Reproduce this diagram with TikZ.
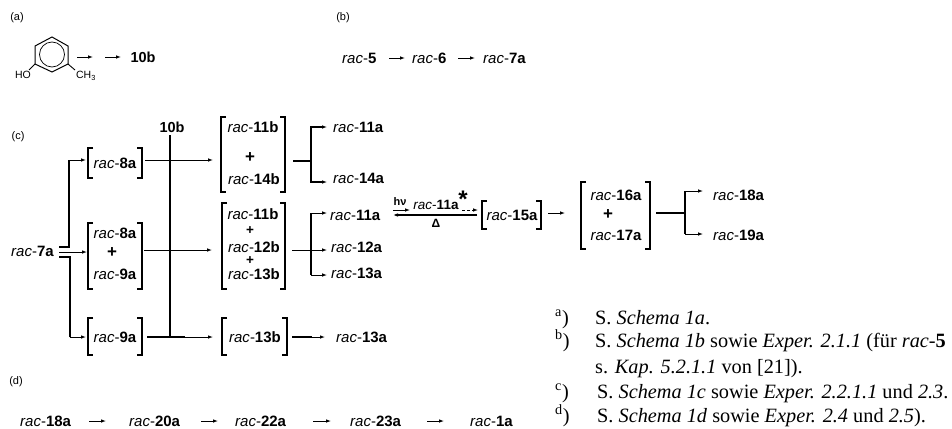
\documentclass[tikz,border=0pt]{standalone}
\usepackage{fontspec}
\setmainfont{Liberation Sans}
\newfontfamily\notefont{Liberation Serif}
\usetikzlibrary{arrows.meta}
\newcommand{\rc}[1]{{\itshape rac}-{\bfseries #1}}
\tikzset{
  x=1pt,y=-1pt,
  lab/.style={font=\fontsize{15}{15}\selectfont,inner sep=0pt,anchor=west},
  mid/.style={font=\fontsize{15}{15}\selectfont,inner sep=0pt},
  tag/.style={font=\fontsize{11}{11}\selectfont,inner sep=0pt},
  sm/.style={font=\fontsize{10.5}{10.5}\selectfont,inner sep=0pt},
  bld/.style={font=\fontsize{14.5}{14.5}\bfseries\selectfont,inner sep=0pt},
  plus/.style={font=\fontsize{17}{17}\bfseries\selectfont,inner sep=0pt},
  plussm/.style={font=\fontsize{13.5}{13.5}\bfseries\selectfont,inner sep=0pt},
  note/.style={font=\notefont\fontsize{20.3}{20.3}\selectfont,inner sep=0pt,anchor=base west},
  ar/.style={line width=0.9pt,-{Latex[length=5pt,width=3.6pt]}},
  ln/.style={line width=1.1pt},
  br/.style={line width=1.3pt},
}
\newcommand{\brk}[4]{%
  \draw[br] (#1+5,#3) -- (#1,#3) -- (#1,#4) -- (#1+5,#4);
  \draw[br] (#2-5,#3) -- (#2,#3) -- (#2,#4) -- (#2-5,#4);}
\begin{document}
\begin{tikzpicture}
\useasboundingbox (0,0) rectangle (952,428);
% (a)
\node[tag] (ta) at (17,18) {(a)};
\draw[line width=1pt] (52,37)--(68,46)--(68,64)--(52,72)--(35,64)--(35,46)--cycle;
\draw[line width=0.7pt] (52,54.5) circle (12.5);
\draw[line width=0.9pt] (35,64)--(29,70) (68,64)--(75,70);
\node[sm] (ho) at (23,75) {HO};
\node[sm] (ch) at (86,76) {CH\textsubscript{3}};
\coordinate (a1) at (77,57); \coordinate (a2) at (93,57);
\coordinate (a3) at (105,57); \coordinate (a4) at (121,57);
\draw[ar] (a1)--(a2); \draw[ar] (a3)--(a4);
\node[bld] (b10) at (143,57) {10b};
% (b)
\node[tag] (tb) at (343,18) {(b)};
\node[lab] (r5) at (342,58) {\rc{5}};
\node[lab] (r6) at (412,58) {\rc{6}};
\node[lab] (r7) at (483,58) {\rc{7a}};
\coordinate (b1) at (389,58); \coordinate (b2) at (405,58);
\coordinate (b3) at (458,58); \coordinate (b4) at (475,58);
\draw[ar] (b1)--(b2); \draw[ar] (b3)--(b4);
% (c)
\node[tag] (tc) at (18,137) {(c)};
\node[bld] (t10b) at (172,127) {10b};
\node[lab] (r7a) at (11,251) {\rc{7a}};
\coordinate (vt) at (170,135); \coordinate (vb) at (170,337);
\draw[ln] (vt)--(vb);
\draw[ln] (59,247)--(69,247)--(69,160); \draw[ar] (68.5,160)--(86,160);
\draw[ar] (59,252)--(87,252);
\draw[ln] (59,257)--(70,257)--(70,337); \draw[ar] (69.5,337)--(86,337);
\brk{88}{142}{148}{178}
\node[mid] (r8a) at (115,163) {\rc{8a}};
\brk{88}{142}{223}{289}
\node[mid] (r8b) at (115,233) {\rc{8a}};
\node[plus] (p1) at (112,253) {+};
\node[mid] (r9b) at (115,274) {\rc{9a}};
\brk{88}{142}{318}{355}
\node[mid] (r9a) at (115,337) {\rc{9a}};
\draw[ar] (145,160)--(213,160);
\draw[ar] (144,250)--(212,250);
\draw[ln] (147,337)--(185,337);
\draw[ar] (147,337)--(213,337);
\brk{221}{285}{117}{192}
\node[mid] (r11b) at (253,127) {\rc{11b}};
\node[plus] (p2) at (250,158) {+};
\node[mid] (r14b) at (254,179) {\rc{14b}};
\brk{222}{285}{203}{289}
\node[mid] (r11c) at (253,214) {\rc{11b}};
\node[plussm] (p3) at (250,231) {+};
\node[mid] (r12b) at (254,247) {\rc{12b}};
\node[plussm] (p4) at (250,260.5) {+};
\node[mid] (r13b) at (254,274) {\rc{13b}};
\brk{222}{287}{318}{355}
\node[mid] (r13c) at (255,337) {\rc{13b}};
% branches
\draw[line width=1.4pt] (293,161)--(311,161);
\draw[ln] (322,127)--(311,127)--(311,182)--(322,182);
\draw[ar] (318,127)--(327,127); \draw[ar] (318,182)--(327,182);
\draw[ln] (311,213)--(311,275);
\draw[ar] (292,250)--(327,250);
\draw[ar] (311,213)--(327,213); \draw[ar] (311,275)--(327,275);
\draw[ar] (292,337)--(325,337);
\draw[ln] (292,337)--(312,337);
\node[lab] (p11) at (333,127) {\rc{11a}};
\node[lab] (p14) at (333,178) {\rc{14a}};
\node[lab] (p11b) at (330,215) {\rc{11a}};
\node[lab] (p12) at (331,247) {\rc{12a}};
\node[lab] (p13) at (331,273) {\rc{13a}};
\node[lab] (p13b) at (336,337) {\rc{13a}};
% photochem
\node[sm,font=\fontsize{11}{11}\bfseries\selectfont] (hv) at (400,202) {hν};
\node[mid,font=\fontsize{13.5}{13.5}\selectfont] (r11s) at (436,205) {\rc{11a}};
\node[inner sep=0pt,font=\fontsize{24}{24}\bfseries\selectfont] (star) at (463,199) {*};
\coordinate (e1) at (393,210); \coordinate (e2) at (410,210);
\coordinate (e3) at (477,215); \coordinate (e4) at (393,215);
\coordinate (e5) at (462,210); \coordinate (e6) at (478,210);
\draw[ar] (e1)--(e2);
\draw[ar,line width=1.1pt] (e3)--(e4);
\draw[ar,densely dashed] (e5)--(e6);
\node[sm,font=\fontsize{12}{12}\bfseries\selectfont] (delta) at (436,223) {Δ};
\brk{482}{541}{201}{229}
\node[mid] (r15) at (512,215) {\rc{15a}};
\coordinate (f1) at (548,213); \coordinate (f2) at (565,213);
\draw[ar] (f1)--(f2);
\brk{581}{650}{182}{249}
\node[mid] (r16) at (616,195) {\rc{16a}};
\node[plus] (p5) at (608,215) {+};
\node[mid] (r17) at (616,235) {\rc{17a}};
\draw[line width=1.4pt] (656,213)--(685,213);
\draw[ln] (685,191)--(685,234);
\draw[ar] (685,191)--(703,191); \draw[ar] (685,234)--(703,234);
\node[lab] (r18) at (713,195) {\rc{18a}};
\node[lab] (r19) at (713,235) {\rc{19a}};
% (d)
\node[tag] (td) at (16,382) {(d)};
\node[lab] (d18) at (20,421) {\rc{18a}};
\node[lab] (d20) at (129,421) {\rc{20a}};
\node[lab] (d22) at (235,421) {\rc{22a}};
\node[lab] (d23) at (350,421) {\rc{23a}};
\node[lab] (d1) at (470,421) {\rc{1a}};
\draw[ar] (89,421)--(106,421);
\draw[ar] (201,421)--(218,421);
\draw[ar] (313,421)--(331,421);
\draw[ar] (427,421)--(444,421);
% notes
\node[note] (na) at (555,324) {\textsuperscript{a})};
\node[note] (ta2) at (595,324) {S. \textit{Schema 1a}.};
\node[note] (nb) at (555,347) {\textsuperscript{b})};
\node[note] (tb2) at (595,347) {S. \textit{Schema 1b} sowie \textit{Exper. 2.1.1} (für \textit{rac}-\textbf{5}};
\node[note] (tb3) at (595,373) {s. \textit{Kap. 5.2.1.1} von [21]).};
\node[note] (nc) at (555,398) {\textsuperscript{c})};
\node[note] (tc2) at (597,398) {S. \textit{Schema 1c} sowie \textit{Exper. 2.2.1.1} und \textit{2.3}.};
\node[note] (nd) at (555,422) {\textsuperscript{d})};
\node[note] (td2) at (597,422) {S. \textit{Schema 1d} sowie \textit{Exper. 2.4} und \textit{2.5}).};
\end{tikzpicture}
\end{document}
